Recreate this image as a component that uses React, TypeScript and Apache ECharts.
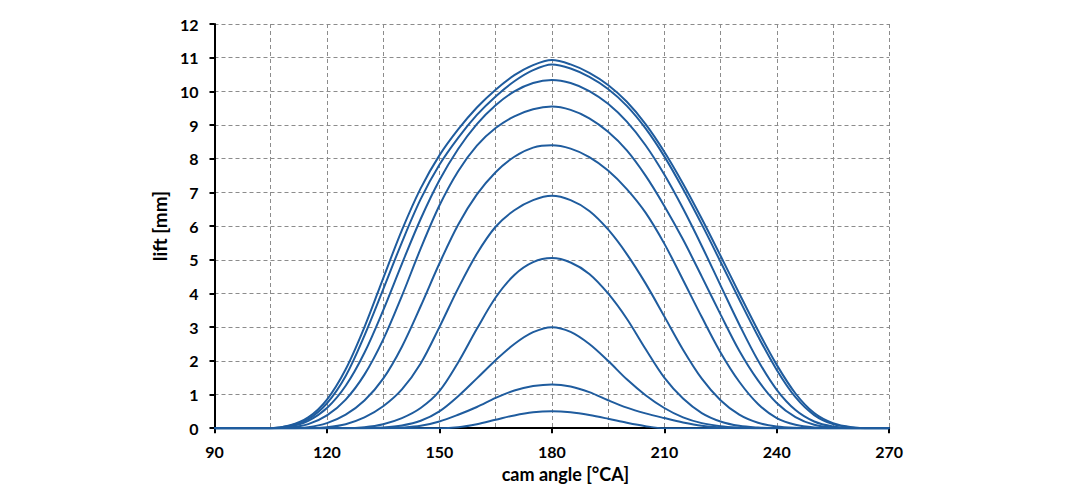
import React, { useEffect, useRef } from "react";
import * as echarts from "echarts";

// cam angle [°CA], every 5 degrees from 90 to 270
const angles = [90,95,100,105,110,115,120,125,130,135,140,145,150,155,160,165,170,175,180,185,190,195,200,205,210,215,220,225,230,235,240,245,250,255,260,265,270];

// lift [mm] of each curve at the angles above
const liftA = [0,0,0,0,0.08,0.32,0.85,1.75,3.0,4.45,5.88,7.12,8.1,8.87,9.52,10.05,10.48,10.78,10.93,10.8,10.55,10.19,9.69,9.03,8.21,7.26,6.22,5.12,4.0,2.9,1.88,1.03,0.45,0.15,0.03,0,0];
const liftB = [0,0,0,0,0.07,0.27,0.74,1.55,2.75,4.12,5.52,6.8,7.82,8.62,9.3,9.85,10.3,10.63,10.8,10.68,10.43,10.07,9.57,8.9,8.07,7.1,6.05,4.94,3.82,2.73,1.73,0.92,0.39,0.12,0.02,0,0];
const liftC = [0,0,0,0,0.05,0.22,0.6,1.26,2.24,3.5,4.88,6.21,7.36,8.29,9.03,9.59,10.0,10.25,10.34,10.25,10.01,9.63,9.1,8.4,7.53,6.52,5.41,4.24,3.08,2.01,1.14,0.54,0.2,0.05,0,0,0];
const liftD = [0,0,0,0,0.02,0.12,0.38,0.85,1.59,2.63,3.93,5.33,6.61,7.63,8.39,8.91,9.26,9.47,9.55,9.45,9.2,8.8,8.25,7.5,6.6,5.6,4.5,3.38,2.3,1.42,0.75,0.33,0.1,0.02,0,0,0];
const liftE = [0,0,0,0,0,0.03,0.15,0.4,0.82,1.47,2.42,3.62,4.89,6.04,6.94,7.6,8.06,8.33,8.4,8.3,8.05,7.65,7.1,6.4,5.48,4.4,3.3,2.25,1.38,0.72,0.3,0.1,0.02,0,0,0,0];
const liftF = [0,0,0,0,0,0,0.03,0.12,0.32,0.65,1.15,1.92,3.0,4.15,5.18,5.98,6.47,6.77,6.9,6.77,6.45,5.9,5.17,4.3,3.32,2.33,1.47,0.83,0.4,0.16,0.05,0.01,0,0,0,0,0];
const liftG = [0,0,0,0,0,0,0,0,0.03,0.12,0.3,0.6,1.1,1.95,2.95,3.88,4.55,4.93,5.05,4.92,4.58,4.0,3.25,2.35,1.5,0.88,0.45,0.2,0.07,0.02,0,0,0,0,0,0,0];
const liftH = [0,0,0,0,0,0,0,0,0,0.02,0.08,0.22,0.5,0.95,1.48,2.02,2.5,2.85,3.0,2.86,2.5,2.0,1.45,0.98,0.6,0.32,0.15,0.06,0.02,0,0,0,0,0,0,0,0];
const liftI = [0,0,0,0,0,0,0,0,0,0,0.02,0.07,0.2,0.4,0.63,0.9,1.12,1.25,1.3,1.24,1.07,0.83,0.61,0.44,0.3,0.17,0.07,0.02,0,0,0,0,0,0,0,0,0];
const liftJ = [0,0,0,0,0,0,0,0,0,0,0,0,0,0.03,0.12,0.25,0.38,0.47,0.5,0.47,0.39,0.28,0.16,0.06,0,0,0,0,0,0,0,0,0,0,0,0,0];

const curves = [liftA, liftB, liftC, liftD, liftE, liftF, liftG, liftH, liftI, liftJ];

const xMin = 90;
const xMax = 270;
const xStep = 30;
const yMin = 0;
const yMax = 12;
const yStep = 1;

const xTitle = "cam angle [°CA]";
const yTitle = "lift [mm]";

const FONT = "Lato, 'Open Sans', sans-serif";
const LINE_COLOR = "#1f5c9e";
const GRID_COLOR = "#8c8c8c";

export default function App() {
  const ref = useRef<HTMLDivElement>(null);
  useEffect(() => {
    if (!ref.current) return;
    const chart = echarts.init(ref.current, null, { renderer: "svg" });
    const dashed = { color: GRID_COLOR, width: 1, type: [4, 3] as number[] };
    chart.setOption({
      animation: false,
      backgroundColor: "#ffffff",
      grid: { left: 206.5, right: 170.8, top: 16, bottom: 64.8, containLabel: false },
      xAxis: {
        type: "value",
        min: xMin,
        max: xMax,
        interval: xStep,
        name: xTitle,
        nameLocation: "middle",
        nameGap: 37,
        nameTextStyle: { fontFamily: FONT, fontWeight: "bold", fontSize: 18, color: "#000", padding: [0, 0, 0, 27] },
        axisLine: { show: true, onZero: false, lineStyle: { color: "#000", width: 2 } },
        axisTick: { show: true, inside: false, length: 5, lineStyle: { color: "#000", width: 2 } },
        axisLabel: { fontFamily: FONT, fontWeight: "bold", fontSize: 16, color: "#000", margin: 15 },
        splitLine: { show: true, lineStyle: dashed },
        minorTick: { show: false, splitNumber: 2 },
        minorSplitLine: { show: true, lineStyle: dashed },
      },
      yAxis: {
        type: "value",
        min: yMin,
        max: yMax,
        interval: yStep,
        name: yTitle,
        nameLocation: "middle",
        nameGap: 29,
        nameRotate: 90,
        nameTextStyle: { fontFamily: FONT, fontWeight: "bold", fontSize: 19, color: "#000" },
        axisLine: { show: true, lineStyle: { color: "#000", width: 2 } },
        axisTick: { show: true, inside: false, length: 5, lineStyle: { color: "#000", width: 2 } },
        axisLabel: { fontFamily: FONT, fontWeight: "bold", fontSize: 16, color: "#000", margin: 16 },
        splitLine: { show: true, lineStyle: dashed },
      },
      series: curves.map((c, i) => ({
        name: "curve" + i,
        type: "line",
        data: angles.map((a, k) => [a, c[k]]),
        showSymbol: false,
        smooth: 0.33,
        lineStyle: { color: LINE_COLOR, width: 2 },
        itemStyle: { color: LINE_COLOR },
        z: 3,
      })),
    });
    return () => chart.dispose();
  }, []);
  return <div ref={ref} style={{ width: 1052, height: 485 }} />;
}
